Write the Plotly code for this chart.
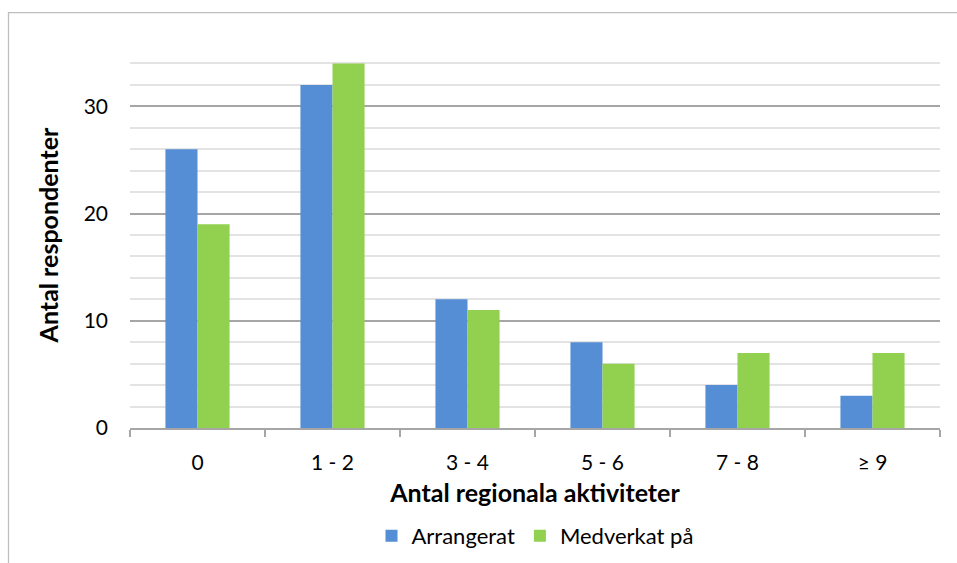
import plotly.graph_objects as go

categories = ["0", "1 - 2", "3 - 4", "5 - 6", "7 - 8", "≥ 9"]
arrangerat = [26, 32, 12, 8, 4, 3]
medverkat = [19, 34, 11, 6, 7, 7]

FONT = "Lato"
W, H = 957, 563
L, R, T, B = 130, 17, 42, 134.5

fig = go.Figure()
fig.add_trace(go.Bar(name="Arrangerat", x=categories, y=arrangerat,
                     marker=dict(color="#558ED5", line=dict(width=0))))
fig.add_trace(go.Bar(name="Medverkat på", x=categories, y=medverkat,
                     marker=dict(color="#92D050", line=dict(width=0))))

pw, ph = W - L - R, H - T - B
# outer chart frame (left and top edges visible)
fig.add_shape(type="rect", xref="paper", yref="paper",
              x0=(8.5 - L) / pw, x1=(W + 20 - L) / pw,
              y0=-(H + 20 - T - ph) / ph, y1=(H - B - 12.5) / ph,
              line=dict(color="#BFBFBF", width=1.3), fillcolor="rgba(0,0,0,0)",
              layer="below")

fig.update_layout(
    width=W, height=H,
    margin=dict(l=L, r=R, t=T, b=B, pad=0, autoexpand=False),
    paper_bgcolor="white", plot_bgcolor="white",
    barmode="group", bargap=0.525, bargroupgap=0,
    font=dict(family=FONT, size=21, color="#000000"),
    showlegend=True,
    legend=dict(orientation="h", x=0.5, xanchor="center",
                yref="container", y=0.0853, yanchor="top",
                font=dict(family=FONT, size=22), itemwidth=30, traceorder="normal"),
    xaxis=dict(
        title=dict(text="<b>Antal regionala aktiviteter</b>", font=dict(family=FONT, size=25), standoff=12),
        showline=True, linecolor="#A6A6A6", linewidth=1.5,
        ticks="outside", tickson="boundaries", ticklen=7, tickcolor="#A6A6A6", tickwidth=1.5,
        tickfont=dict(family=FONT, size=21), showgrid=False, ticklabelstandoff=15,
        automargin=False,
    ),
    yaxis=dict(
        title=dict(text="<b>Antal respondenter</b>", font=dict(family=FONT, size=25), standoff=17),
        range=[0, 36], dtick=10, tick0=0, showgrid=True, gridcolor="#A6A6A6", gridwidth=1.5,
        zeroline=False, showline=False, ticks="", ticklabelstandoff=21,
        tickfont=dict(family=FONT, size=21), automargin=False,
        minor=dict(dtick=2, tick0=0, showgrid=True, gridcolor="#E3E3E3", gridwidth=1.5),
    ),
)

fig.write_html("out.html")
